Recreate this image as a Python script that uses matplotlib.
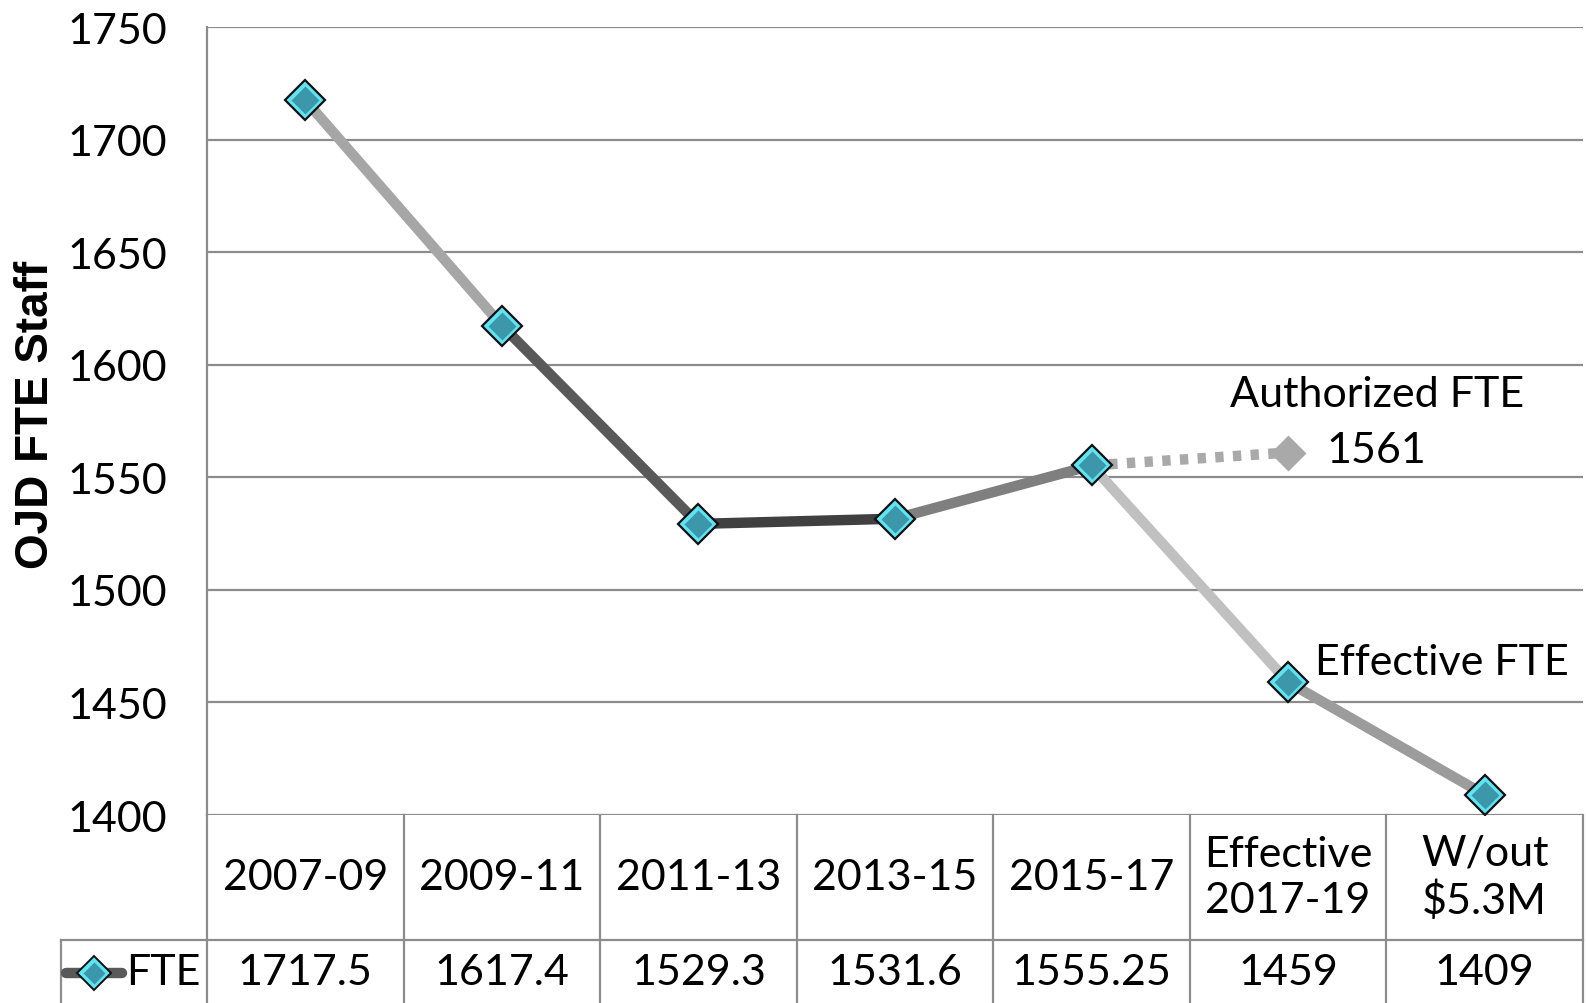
import matplotlib.pyplot as plt
import matplotlib.transforms as mtrans
from matplotlib.lines import Line2D

plt.rcParams['font.family'] = ['Lato', 'DejaVu Sans']

# data
periods = ['2007-09', '2009-11', '2011-13', '2013-15', '2015-17', 'Effective\n2017-19', 'W/out\n$5.3M']
fte = [1717.5, 1617.4, 1529.3, 1531.6, 1555.25, 1459, 1409]
fte_labels = ['1717.5', '1617.4', '1529.3', '1531.6', '1555.25', '1459', '1409']
authorized = 1561
seg_colors = ['#a6a6a6', '#595959', '#404040', '#7f7f7f', '#c0c0c0', '#9c9c9c']
yticks = [1400, 1450, 1500, 1550, 1600, 1650, 1700, 1750]

W, H = 1586, 1004
fig = plt.figure(figsize=(W / 100, H / 100), dpi=100)
x0, x1, ytop, ybot = 207, 1583, 28, 816
ax = fig.add_axes([x0 / W, 1 - ybot / H, (x1 - x0) / W, (ybot - ytop) / H])

xs = list(range(len(fte)))
ax.set_xlim(-0.5, len(fte) - 0.5)
ax.set_ylim(1400, 1750)
ax.set_yticks(yticks)
ax.set_yticklabels([str(t) for t in yticks], fontsize=31)
ax.tick_params(axis='y', length=0, pad=29)
ax.set_xticks([])
ax.grid(axis='y', color='#8c8c8c', lw=1.6)
ax.set_axisbelow(True)
for s in ['top', 'right', 'bottom']:
    ax.spines[s].set_visible(False)
ax.spines['left'].set_color('#8c8c8c')
ax.spines['left'].set_linewidth(1.6)
fig.text(36 / W, 1 - 415 / H, 'OJD FTE Staff', fontsize=33, fontweight='bold',
         family=['Liberation Sans', 'DejaVu Sans'], rotation=90, ha='center', va='center')

# authorized dotted line
ax.plot([xs[4], xs[5]], [fte[4], authorized], color='#a9a9a9', lw=7.5,
        ls=(0, (0.8, 0.9)), solid_capstyle='butt', zorder=2)
ax.plot(xs[5], authorized, marker='D', ms=18, color='#a9a9a9', mec='none', zorder=3)

# segments
for i in range(len(fte) - 1):
    ax.plot(xs[i:i + 2], fte[i:i + 2], color=seg_colors[i], lw=7.5,
            solid_capstyle='round', zorder=3)

# markers
ax.plot(xs, fte, ls='none', marker='D', ms=20, mfc='#5fe4f4', mec='#111111', mew=1.6, zorder=4)
ax.plot(xs, fte, ls='none', marker='D', ms=14, mfc='#3c97ab', mec='none', zorder=5)

ax.text(5.45, 1587, 'Authorized FTE', fontsize=31, ha='center', va='center')
ax.text(5.45, 1562, '1561', fontsize=31, ha='center', va='center')
ax.text(5.78, 1468, 'Effective FTE', fontsize=31, ha='center', va='center')

# data table below the plot
tr = mtrans.blended_transform_factory(ax.transData, fig.transFigure)
def fy(py):
    return 1 - py / H

tcol = '#8c8c8c'
yrow = 941
for k in range(len(fte) + 1):
    fig.add_artist(Line2D([k - 0.5, k - 0.5], [fy(ybot), fy(H)], transform=tr, color=tcol, lw=1.6))
lab_left = -0.5 - (x0 - 61) / ((x1 - x0) / len(fte))
fig.add_artist(Line2D([lab_left, len(fte) - 0.5], [fy(yrow), fy(yrow)], transform=tr, color=tcol, lw=1.6))
fig.add_artist(Line2D([lab_left, lab_left], [fy(yrow), fy(H)], transform=tr, color=tcol, lw=1.6))

for i, (p, v) in enumerate(zip(periods, fte_labels)):
    fig.text(i, fy(878), p, transform=tr, fontsize=31, ha='center', va='center', linespacing=1.25)
    fig.text(i, fy(973), v, transform=tr, fontsize=31, ha='center', va='center')

# legend key in row label cell
fig.add_artist(Line2D([66 / W, 122 / W], [fy(974), fy(974)], color='#595959', lw=7.5,
                      solid_capstyle='round'))
fig.add_artist(Line2D([94 / W], [fy(974)], marker='D', ms=17, mfc='#5fe4f4', mec='#111111', mew=1.4))
fig.add_artist(Line2D([94 / W], [fy(974)], marker='D', ms=11, mfc='#3c97ab', mec='none'))
fig.text(126 / W, fy(973), 'FTE', fontsize=31, ha='left', va='center')

fig.savefig('out.png', dpi=100)
